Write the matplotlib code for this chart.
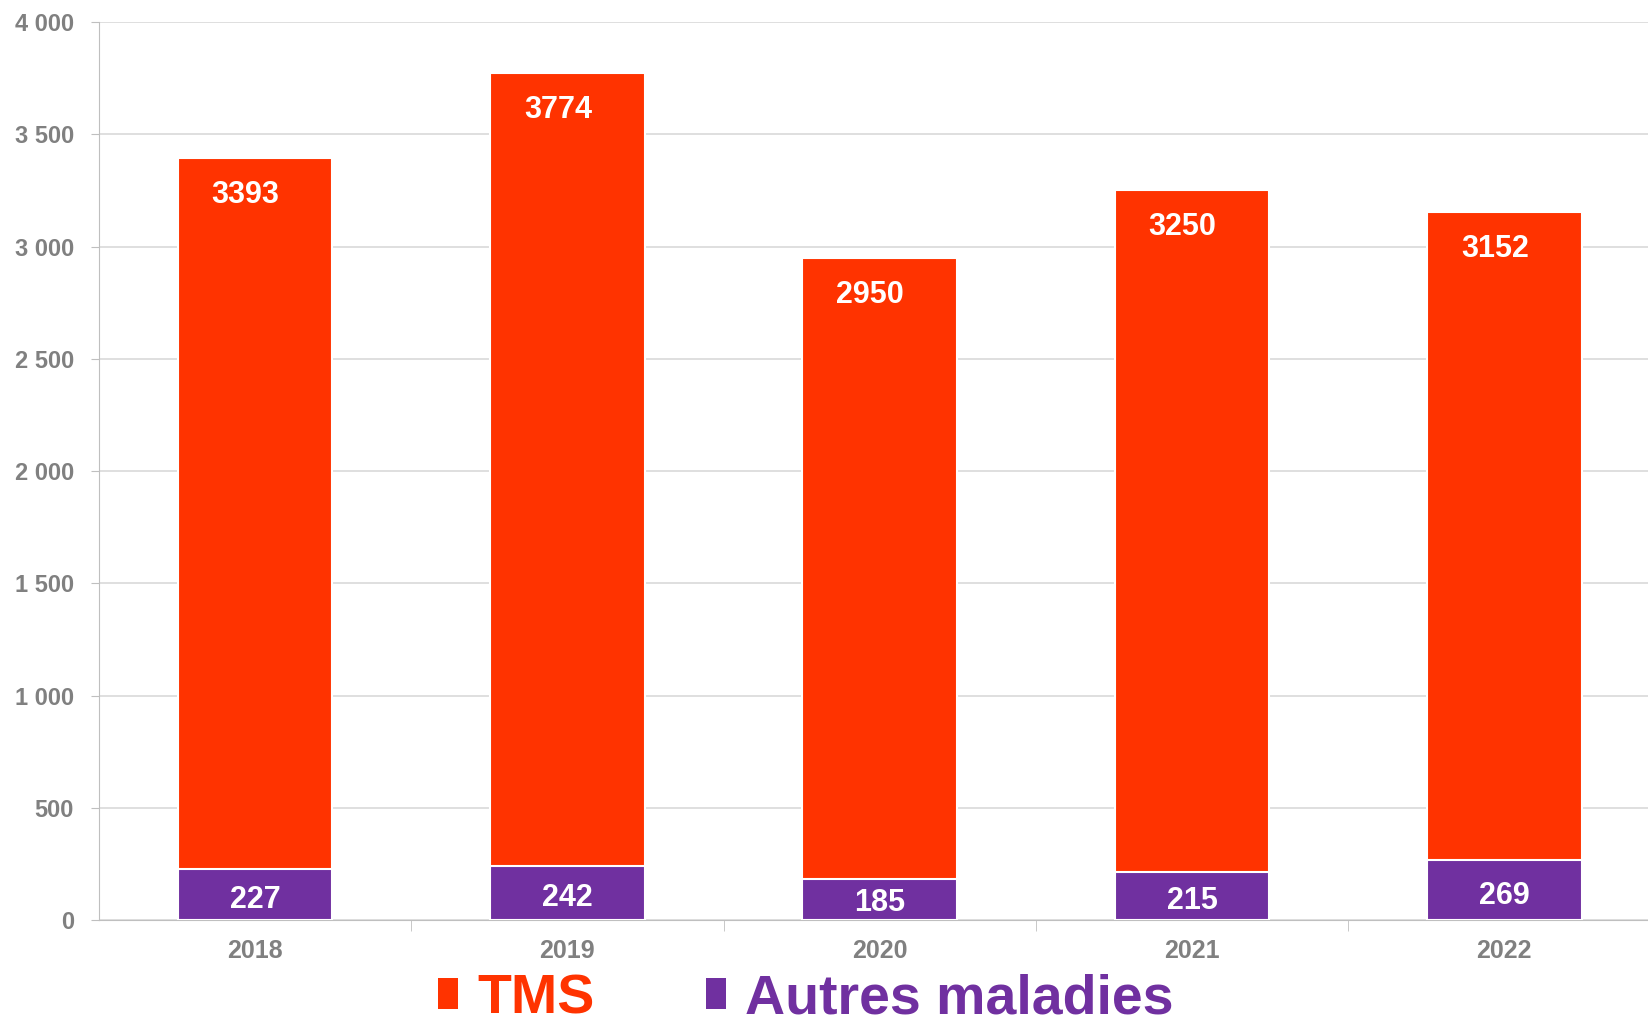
import matplotlib.pyplot as plt
from matplotlib.patches import Patch
import matplotlib.ticker as ticker

# data
years = ["2018", "2019", "2020", "2021", "2022"]
tms = [3393, 3774, 2950, 3250, 3152]
autres = [227, 242, 185, 215, 269]
yticks = [0, 500, 1000, 1500, 2000, 2500, 3000, 3500, 4000]

red = "#FF3300"
purple = "#7030A0"
gray = "#808080"

plt.rcParams['font.family'] = ["Liberation Sans", "DejaVu Sans"]

fig = plt.figure(figsize=(16.48, 10.25), dpi=100)
ax = fig.add_axes([0.060, 0.1024, 0.94, 0.8761])

x = list(range(len(years)))

# TMS bar behind, other diseases on top of it from zero
ax.bar(x, tms, width=0.495, color=red, edgecolor="white", linewidth=1.5, zorder=2)
ax.bar(x, autres, width=0.495, color=purple, edgecolor="white", linewidth=1.5, zorder=3)

for i in x:
    ax.text(i - 0.03, tms[i] - 165, str(tms[i]), ha="center", va="center",
            color="white", fontsize=22, fontweight="bold", zorder=4)
    ax.text(i, autres[i] * 0.40, str(autres[i]), ha="center", va="center",
            color="white", fontsize=22, fontweight="bold", zorder=4)

# axes look
ax.set_ylim(0, 4000)
ax.set_xlim(-0.5, 4.46)
ax.set_yticks(yticks)
ax.yaxis.set_major_formatter(ticker.FuncFormatter(lambda v, p: f"{int(v):,}".replace(",", " ")))
ax.set_xticks(x)
ax.set_xticklabels(years)
ax.set_xticks([0.5, 1.5, 2.5, 3.5], minor=True)
ax.grid(axis="y", color="#d9d9d9", linewidth=1.2, zorder=0)
ax.set_axisbelow(True)

for lab in ax.get_yticklabels():
    lab.set_fontsize(17)
    lab.set_fontweight("bold")
    lab.set_color(gray)
for lab in ax.get_xticklabels():
    lab.set_fontsize(18)
    lab.set_fontweight("bold")
    lab.set_color(gray)

ax.tick_params(axis="y", length=6, color="#bfbfbf", pad=12)
ax.tick_params(axis="x", which="major", length=0, pad=14)
ax.tick_params(axis="x", which="minor", length=8, color="#bfbfbf")

ax.spines["top"].set_visible(False)
ax.spines["right"].set_visible(False)
ax.spines["left"].set_color("#bfbfbf")
ax.spines["bottom"].set_color("#bfbfbf")

# legend at the bottom
handles = [Patch(facecolor=red), Patch(facecolor=purple)]
leg = fig.legend(handles, ["TMS", "Autres maladies"], loc="center",
                 bbox_to_anchor=(0.489, 0.025), ncol=2, frameon=False,
                 prop={"size": 40, "weight": "bold"},
                 handlelength=0.36, handleheight=0.5, handletextpad=0.35,
                 columnspacing=2.0, borderpad=0.1)
leg.get_texts()[0].set_color(red)
leg.get_texts()[1].set_color(purple)

fig.savefig("out.png", dpi=100)
